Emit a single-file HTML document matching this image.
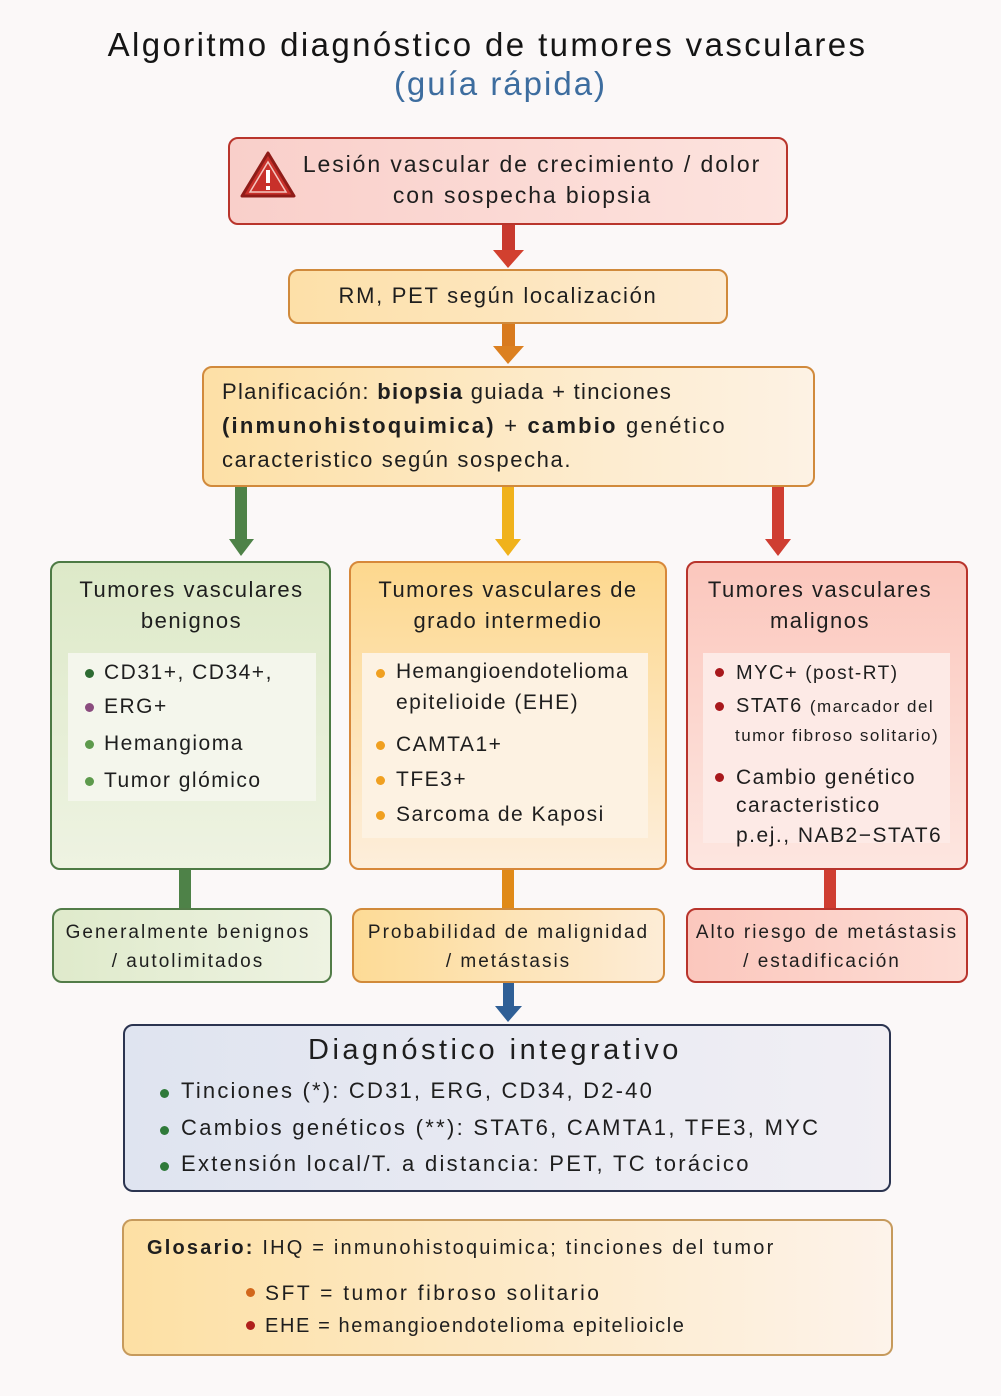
<!DOCTYPE html>
<html><head><meta charset="utf-8"><style>
html,body{margin:0;padding:0}
body{width:1001px;height:1396px;position:relative;background:#fbf8f8;font-family:"Liberation Sans",sans-serif;color:#1e1e1e;overflow:hidden;letter-spacing:1.5px}
.b{position:absolute;box-sizing:border-box;border-radius:10px}
.t{position:absolute;white-space:nowrap;line-height:1}
.c{text-align:center}
.d{display:inline-block;width:9px;height:9px;border-radius:50%;position:absolute}
</style></head><body>
<svg width="1001" height="1396" style="position:absolute;left:0;top:0">
<rect x="502" y="225" width="13" height="26" fill="#c8392e"/><polygon points="493,250 524,250 508,268" fill="#d2402f"/>
<rect x="502" y="323" width="13" height="24" fill="#d87a1e"/><polygon points="493,346 524,346 508,364" fill="#dc8020"/>
<rect x="235" y="486" width="12" height="54" fill="#4e8248"/><polygon points="229,539 254,539 241,556" fill="#4e8248"/>
<rect x="502" y="486" width="12" height="54" fill="#f0b21c"/><polygon points="495,539 521,539 508,556" fill="#f0b21c"/>
<rect x="772" y="486" width="12" height="54" fill="#cf3e32"/><polygon points="765,539 791,539 778,556" fill="#cf3e32"/>
<rect x="179" y="870" width="12" height="38" fill="#4e8248"/>
<rect x="502" y="870" width="12" height="38" fill="#e08a18"/>
<rect x="824" y="870" width="12" height="38" fill="#cf3e32"/>
<rect x="503" y="983" width="11" height="24" fill="#2f5f96"/><polygon points="495,1006 522,1006 508,1022" fill="#2f5f96"/>
</svg>

<div class="t c" style="left:0;width:975px;top:28px;font-size:33px;letter-spacing:2.4px;color:#151515">Algoritmo diagnóstico de tumores vasculares</div>
<div class="t c" style="left:0;width:1001px;top:67px;font-size:33px;letter-spacing:2px;color:#3d6d9f">(guía rápida)</div>

<div class="b" style="left:228px;top:137px;width:560px;height:88px;background:linear-gradient(90deg,#f9cfca,#fde3de);border:2px solid #b9352c"></div>
<svg style="position:absolute;left:239px;top:150px" width="58" height="50"><polygon points="29,3 55,46 3,46" fill="#c8302a" stroke="#8f1c18" stroke-width="3" stroke-linejoin="round"/><polygon points="29,12 47,42 11,42" fill="none" stroke="#f4c7c0" stroke-width="1.5"/><rect x="27" y="20" width="4" height="13" fill="#fff"/><rect x="27" y="36" width="4" height="4" fill="#fff"/></svg>
<div class="t c" style="left:300px;width:464px;top:153px;font-size:23px;letter-spacing:1.9px">Lesión vascular de crecimiento / dolor</div>
<div class="t c" style="left:300px;width:445px;top:184px;font-size:23px;letter-spacing:1.9px">con sospecha biopsia</div>

<div class="b" style="left:288px;top:269px;width:440px;height:55px;background:linear-gradient(90deg,#fde0a8,#fdebd2);border:2px solid #d08a3c"></div>
<div class="t c" style="left:288px;width:420px;top:285px;font-size:22px;letter-spacing:1.7px">RM, PET según localización</div>

<div class="b" style="left:202px;top:366px;width:613px;height:121px;background:linear-gradient(90deg,#fde0a6,#fdf2e4);border:2px solid #d18a3c"></div>
<div class="t" style="left:222px;top:381px;font-size:22px;letter-spacing:1.3px">Planificación: <b>biopsia</b> guiada + tinciones</div>
<div class="t" style="left:222px;top:415px;font-size:22px;letter-spacing:2.2px"><b>(inmunohistoquimica)</b> + <b>cambio</b> genético</div>
<div class="t" style="left:222px;top:449px;font-size:22px;letter-spacing:1.6px">caracteristico según sospecha.</div>

<div class="b" style="left:50px;top:561px;width:281px;height:309px;background:linear-gradient(180deg,#dde9c8,#eef3e2);border:2px solid #4d7a44"></div>
<div class="b" style="left:68px;top:653px;width:248px;height:148px;background:#f4f6ec;border-radius:0"></div>
<div class="t c" style="left:50px;width:283px;top:579px;font-size:22px">Tumores vasculares</div>
<div class="t c" style="left:50px;width:283px;top:610px;font-size:22px">benignos</div>
<span class="d" style="left:85px;top:669px;background:#2d6b32"></span><div class="t" style="left:104px;top:662px;font-size:21px">CD31+, CD34+,</div>
<span class="d" style="left:85px;top:703px;background:#8a4c7e"></span><div class="t" style="left:104px;top:696px;font-size:21px">ERG+</div>
<span class="d" style="left:85px;top:740px;background:#5d9a4c"></span><div class="t" style="left:104px;top:733px;font-size:21px">Hemangioma</div>
<span class="d" style="left:85px;top:777px;background:#5d9a4c"></span><div class="t" style="left:104px;top:770px;font-size:21px">Tumor glómico</div>

<div class="b" style="left:349px;top:561px;width:318px;height:309px;background:linear-gradient(180deg,#fdd88e,#fdeedb);border:2px solid #d7883a"></div>
<div class="b" style="left:362px;top:653px;width:286px;height:185px;background:#fdf2e2;border-radius:0"></div>
<div class="t c" style="left:349px;width:318px;top:579px;font-size:22px">Tumores vasculares de</div>
<div class="t c" style="left:349px;width:318px;top:610px;font-size:22px">grado intermedio</div>
<span class="d" style="left:376px;top:669px;background:#f0a020"></span><div class="t" style="left:396px;top:661px;font-size:21px;letter-spacing:1.2px">Hemangioendotelioma</div>
<div class="t" style="left:396px;top:692px;font-size:21px">epitelioide (EHE)</div>
<span class="d" style="left:376px;top:741px;background:#f0a020"></span><div class="t" style="left:396px;top:734px;font-size:21px">CAMTA1+</div>
<span class="d" style="left:376px;top:776px;background:#f0a020"></span><div class="t" style="left:396px;top:769px;font-size:21px">TFE3+</div>
<span class="d" style="left:376px;top:811px;background:#f0a020"></span><div class="t" style="left:396px;top:804px;font-size:21px">Sarcoma de Kaposi</div>

<div class="b" style="left:686px;top:561px;width:282px;height:309px;background:linear-gradient(180deg,#fbc7bd,#fde6e0);border:2px solid #b8342c"></div>
<div class="b" style="left:703px;top:653px;width:247px;height:190px;background:#fdeae6;border-radius:0"></div>
<div class="t c" style="left:686px;width:268px;top:579px;font-size:22px">Tumores vasculares</div>
<div class="t c" style="left:686px;width:268px;top:610px;font-size:22px">malignos</div>
<span class="d" style="left:715px;top:668px;background:#a8181c"></span><div class="t" style="left:736px;top:663px;font-size:20px">MYC+ <span style="font-size:19px">(post-RT)</span></div>
<span class="d" style="left:715px;top:702px;background:#a8181c"></span><div class="t" style="left:736px;top:696px;font-size:20px">STAT6 <span style="font-size:17px">(marcador del</span></div>
<div class="t" style="left:735px;top:727px;font-size:17px">tumor fibroso solitario)</div>
<span class="d" style="left:715px;top:773px;background:#a8181c"></span><div class="t" style="left:736px;top:767px;font-size:21px">Cambio genético</div>
<div class="t" style="left:736px;top:795px;font-size:21px">caracteristico</div>
<div class="t" style="left:736px;top:825px;font-size:21px">p.ej., NAB2−STAT6</div>

<div class="b" style="left:52px;top:908px;width:280px;height:75px;background:linear-gradient(90deg,#dfeacb,#eef3e2);border:2px solid #527c48"></div>
<div class="t c" style="left:52px;width:272px;top:923px;font-size:19px;letter-spacing:2px">Generalmente benignos</div>
<div class="t c" style="left:52px;width:272px;top:952px;font-size:19px;letter-spacing:2px">/ autolimitados</div>
<div class="b" style="left:352px;top:908px;width:313px;height:75px;background:linear-gradient(90deg,#fddb96,#fdecd6);border:2px solid #d18a3a"></div>
<div class="t c" style="left:352px;width:313px;top:923px;font-size:19px;letter-spacing:2px">Probabilidad de malignidad</div>
<div class="t c" style="left:352px;width:313px;top:952px;font-size:19px;letter-spacing:2px">/ metástasis</div>
<div class="b" style="left:686px;top:908px;width:282px;height:75px;background:linear-gradient(90deg,#fbc7bd,#fddcd4);border:2px solid #b8342c"></div>
<div class="t c" style="left:686px;width:282px;top:923px;font-size:19px;letter-spacing:2px">Alto riesgo de metástasis</div>
<div class="t c" style="left:686px;width:272px;top:952px;font-size:19px;letter-spacing:2px">/ estadificación</div>

<div class="b" style="left:123px;top:1024px;width:768px;height:168px;background:linear-gradient(90deg,#dfe4f0,#f1eff4);border:2px solid #2b3450"></div>
<div class="t c" style="left:123px;width:744px;top:1036px;font-size:29px;letter-spacing:3.5px">Diagnóstico integrativo</div>
<span class="d" style="left:160px;top:1089px;background:#2f7a3a"></span><div class="t" style="left:181px;top:1080px;font-size:22px;letter-spacing:2.2px">Tinciones (*): CD31, ERG, CD34, D2-40</div>
<span class="d" style="left:160px;top:1126px;background:#2f7a3a"></span><div class="t" style="left:181px;top:1117px;font-size:22px;letter-spacing:2.3px">Cambios genéticos (**): STAT6, CAMTA1, TFE3, MYC</div>
<span class="d" style="left:160px;top:1162px;background:#2f7a3a"></span><div class="t" style="left:181px;top:1153px;font-size:22px;letter-spacing:2.3px">Extensión local/T. a distancia: PET, TC torácico</div>

<div class="b" style="left:122px;top:1219px;width:771px;height:137px;background:linear-gradient(90deg,#fde0a4,#fdf3ea);border:2px solid #c69a5c"></div>
<div class="t" style="left:147px;top:1238px;font-size:20px;letter-spacing:2.2px"><b>Glosario:</b> IHQ = inmunohistoquimica; tinciones del tumor</div>
<span class="d" style="left:246px;top:1288px;background:#d2671c"></span><div class="t" style="left:265px;top:1283px;font-size:21px;letter-spacing:2.5px">SFT = tumor fibroso solitario</div>
<span class="d" style="left:246px;top:1321px;background:#b0201c"></span><div class="t" style="left:265px;top:1316px;font-size:20px;letter-spacing:1.6px">EHE = hemangioendotelioma epitelioicle</div>
</body></html>
